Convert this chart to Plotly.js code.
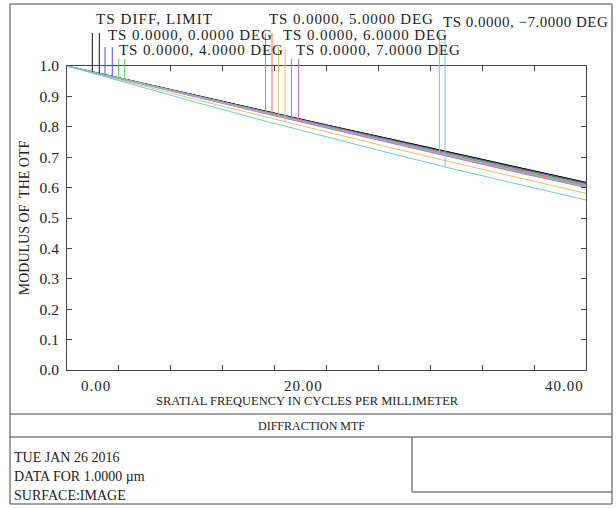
<!DOCTYPE html>
<html>
<head>
<meta charset="utf-8">
<script src="https://cdn.plot.ly/plotly-3.0.1.min.js"></script>
<style>html,body{margin:0;padding:0;background:#fff;}#chart{width:616px;height:508px;}</style>
</head>
<body>
<div id="chart"></div>
<script>
// ---- data ----
const freq = [0, 5, 10, 15, 20, 25, 30, 35, 40];
const diffT = [1.000, 0.951, 0.903, 0.855, 0.806, 0.759, 0.711, 0.664, 0.617];
const diffS = [1.000, 0.951, 0.903, 0.855, 0.806, 0.759, 0.711, 0.664, 0.617];
const f0T = [1.000, 0.950, 0.902, 0.853, 0.804, 0.756, 0.708, 0.661, 0.614];
const f0S = [1.000, 0.950, 0.901, 0.852, 0.803, 0.755, 0.707, 0.660, 0.613];
const f4T = [1.000, 0.950, 0.900, 0.851, 0.801, 0.752, 0.704, 0.656, 0.608];
const f4S = [1.000, 0.950, 0.901, 0.852, 0.802, 0.754, 0.706, 0.658, 0.610];
const f5T = [1.000, 0.949, 0.899, 0.849, 0.799, 0.750, 0.701, 0.652, 0.604];
const f5S = [1.000, 0.950, 0.900, 0.851, 0.801, 0.752, 0.703, 0.655, 0.607];
const f6T = [1.000, 0.949, 0.898, 0.848, 0.798, 0.748, 0.699, 0.650, 0.601];
const f6S = [1.000, 0.944, 0.889, 0.836, 0.783, 0.731, 0.680, 0.630, 0.581];
const f7T = [1.000, 0.949, 0.898, 0.847, 0.797, 0.747, 0.697, 0.648, 0.600];
const f7S = [1.000, 0.948, 0.897, 0.846, 0.796, 0.746, 0.696, 0.647, 0.602];
const fm7T = [1.000, 0.949, 0.899, 0.849, 0.799, 0.749, 0.700, 0.651, 0.603];
const fm7S = [1.000, 0.939, 0.880, 0.822, 0.766, 0.712, 0.659, 0.608, 0.559];

const fieldNames = ["TS DIFF, LIMIT", "TS 0.0000, 0.0000 DEG", "TS 0.0000, 4.0000 DEG",
  "TS 0.0000, 5.0000 DEG", "TS 0.0000, 6.0000 DEG", "TS 0.0000, 7.0000 DEG", "TS 0.0000, \u22127.0000 DEG"];
const xTickLabels = ["0.00", "20.00", "40.00"];
const yTickVals = [0, 0.1, 0.2, 0.3, 0.4, 0.5, 0.6, 0.7, 0.8, 0.9, 1.0];

// ---- styling / layout helpers ----
const colors = ["#111111", "#5050dc", "#66c866", "#f2704a", "#dcc468", "#cc6ccc", "#66cdd4"];
const seriesT = [diffT, f0T, f4T, f5T, f6T, f7T, fm7T];
const seriesS = [diffS, f0S, f4S, f5S, f6S, f7S, fm7S];
// legend marker positions (in frequency units) and label placement (pixels)
const legMarkX = [[1.95, 2.49], [2.93, 3.49], [3.98, 4.44], [15.30, 15.80], [16.30, 16.81], [17.30, 17.84], [28.70, 29.14]];
const legTopPx = [33, 47, 59, 33, 47, 59, 33];
const legTextPx = [[94, 19], [106, 35], [117, 50], [267, 19], [281, 35], [294, 50], [441, 22]];
const legSpacing = [1.1, 0.9, 0.9, 0.9, 0.9, 0.9, 0.5];

const W = 616, H = 508, L = 67, R = 586, T = 66, B = 370;
const px = x => (x - L) / (R - L);
const py = y => (B - y) / (B - T);
const FONT = "Liberation Serif, Times New Roman, serif";
const TXT = "#222";
const spaced = (t, s) => '<span style="letter-spacing:' + s + 'px">' + t + '</span>';

function interp(xs, ys, x) {
  for (let i = 0; i < xs.length - 1; i++) {
    if (x >= xs[i] && x <= xs[i + 1]) {
      const t = (x - xs[i]) / (xs[i + 1] - xs[i]);
      return ys[i] + t * (ys[i + 1] - ys[i]);
    }
  }
  return ys[ys.length - 1];
}

const traces = [];
for (let i = 0; i < seriesT.length; i++) {
  traces.push({x: freq, y: seriesT[i], mode: "lines", line: {color: colors[i], width: 1}, name: fieldNames[i] + " T", hoverinfo: "skip"});
  traces.push({x: freq, y: seriesS[i], mode: "lines", line: {color: colors[i], width: 1}, name: fieldNames[i] + " S", hoverinfo: "skip"});
}

const shapes = [];
const annotations = [];
for (let i = 0; i < fieldNames.length; i++) {
  const ser = [seriesT[i], seriesS[i]];
  for (let k = 0; k < 2; k++) {
    const xv = legMarkX[i][k];
    shapes.push({type: "line", xref: "x", yref: "paper", x0: xv, x1: xv,
      y0: interp(freq, ser[k], xv), y1: py(legTopPx[i]), line: {color: colors[i], width: 1}});
  }
  annotations.push({xref: "paper", yref: "paper", x: px(legTextPx[i][0]), y: py(legTextPx[i][1]),
    xanchor: "left", yanchor: "middle", showarrow: false, text: spaced(fieldNames[i], legSpacing[i]),
    font: {family: FONT, size: 15, color: TXT}});
}
// x tick labels (offset like the original)
const xLabPos = [[79, "left"], [303, "center"], [586, "right"]];
for (let i = 0; i < xTickLabels.length; i++) {
  annotations.push({xref: "paper", yref: "paper", x: px(xLabPos[i][0]), y: py(386), xanchor: xLabPos[i][1], yanchor: "middle",
    showarrow: false, text: spaced(xTickLabels[i], 1), font: {family: FONT, size: 15, color: TXT}});
}
annotations.push({xref: "paper", yref: "paper", x: px(307), y: py(401), xanchor: "center", yanchor: "middle", showarrow: false,
  text: "SRATIAL FREQUENCY IN CYCLES PER MILLIMETER", font: {family: FONT, size: 12.5, color: TXT}});
annotations.push({xref: "paper", yref: "paper", x: px(311), y: py(426), xanchor: "center", yanchor: "middle", showarrow: false,
  text: "DIFFRACTION MTF", font: {family: FONT, size: 12, color: TXT}});
const infoLines = [["TUE JAN 26 2016", 457], ["DATA FOR 1.0000 \u00b5m", 476], ["SURFACE:IMAGE", 495]];
for (const [t, y] of infoLines) {
  annotations.push({xref: "paper", yref: "paper", x: px(12), y: py(y), xanchor: "left", yanchor: "middle", showarrow: false,
    text: t, font: {family: FONT, size: 14, color: TXT}});
}
// frame lines
const frame = [
  [10, 4, 612, 4], [612, 4, 612, 504], [612, 504, 10, 504], [10, 504, 10, 4],
  [10, 414, 612, 414], [10, 437, 612, 437], [412, 437, 412, 492], [412, 492, 612, 492]
];
for (const f of frame) {
  shapes.push({type: "line", xref: "paper", yref: "paper", x0: px(f[0]), y0: py(f[1]), x1: px(f[2]), y1: py(f[3]),
    line: {color: "#444", width: 1}});
}

const layout = {
  width: W, height: H,
  margin: {l: L, r: W - R, t: T, b: H - B, pad: 0},
  paper_bgcolor: "#fff", plot_bgcolor: "#fff",
  showlegend: false,
  xaxis: {range: [0, 40], showgrid: false, zeroline: false, showline: true, mirror: "ticks", linecolor: "#444", linewidth: 1,
    ticks: "inside", ticklen: 5, tickcolor: "#444", tickmode: "linear", tick0: 0, dtick: 4, showticklabels: false},
  yaxis: {range: [0, 1], showgrid: false, zeroline: false, showline: true, mirror: "ticks", linecolor: "#444", linewidth: 1,
    ticks: "inside", ticklen: 5, tickcolor: "#444", tickvals: yTickVals, ticktext: yTickVals.map(v => v.toFixed(1)),
    tickfont: {family: FONT, size: 15.5, color: TXT}, ticklabelstandoff: 4,
    title: {text: "MODULUS OF  THE OTF", font: {family: FONT, size: 14, color: TXT}, standoff: 6}},
  shapes: shapes,
  annotations: annotations
};

Plotly.newPlot("chart", traces, layout, {staticPlot: true, displayModeBar: false});
</script>
</body>
</html>
